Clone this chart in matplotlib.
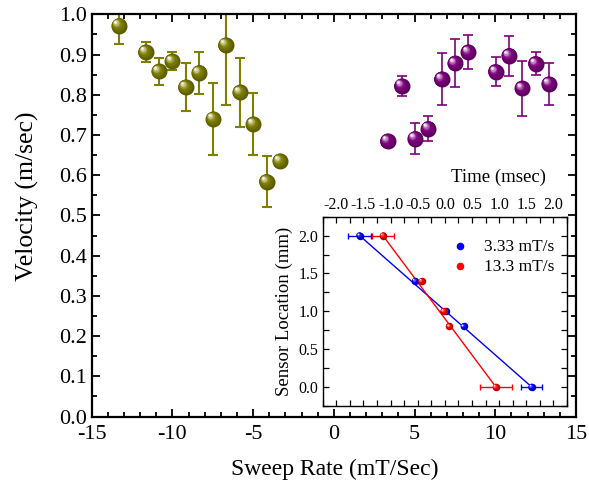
import numpy as np
import matplotlib
matplotlib.use("Agg")
import matplotlib.pyplot as plt
from matplotlib.transforms import offset_copy
from matplotlib.colors import to_rgb
from matplotlib.ticker import MultipleLocator

plt.rcParams['font.family'] = ['Liberation Serif', 'DejaVu Serif']
plt.rcParams['mathtext.fontset'] = 'stix'

# ---------------- data ----------------
neg_rate = [-13.32, -11.66, -10.84, -10.01, -9.18, -8.36, -7.47, -6.70, -5.82, -4.99, -4.16, -3.34]
neg_vel = [0.972, 0.906, 0.858, 0.883, 0.819, 0.855, 0.740, 0.924, 0.806, 0.727, 0.584, 0.635]
neg_err = [0.047, 0.024, 0.033, 0.022, 0.060, 0.052, 0.089, 0.149, 0.086, 0.077, 0.064, 0.0]

pos_rate = [3.33, 4.20, 5.02, 5.85, 6.68, 7.50, 8.33, 10.02, 10.85, 11.67, 12.50, 13.33]
pos_vel = [0.685, 0.822, 0.691, 0.716, 0.839, 0.878, 0.906, 0.857, 0.897, 0.816, 0.877, 0.827]
pos_err = [0.0, 0.024, 0.038, 0.030, 0.064, 0.060, 0.042, 0.036, 0.050, 0.069, 0.029, 0.052]

sensor_loc = [2.0, 1.4, 1.0, 0.8, 0.0]
time_slow = [-1.57, -0.55, 0.02, 0.35, 1.60]
time_slow_err = [0.21, 0.0, 0.0, 0.0, 0.20]
time_fast = [-1.14, -0.43, -0.02, 0.08, 0.94]
time_fast_err = [0.20, 0.0, 0.0, 0.0, 0.30]
labels = ['3.33 mT/s', '13.3 mT/s']

fig = plt.figure(figsize=(5.89, 4.91), dpi=100)
ax = fig.add_axes([0.1557, 0.1517, 0.8223, 0.8192])


def sphere(a, x, y, color, size, zorder=3, n=14):
    rgb = np.array(to_rgb(color))
    dark = rgb * 0.7
    white = np.array([1.0, 1.0, 1.0])
    for k in range(n):
        t = k / (n - 1)
        d = size * (1 - 0.9 * t)
        off = (size - d) * 0.28
        if t < 0.5:
            c = dark + (rgb - dark) * (t / 0.5)
        else:
            u = (t - 0.5) / 0.5
            c = rgb + (white - rgb) * (u ** 1.1)
        tr = offset_copy(a.transData, fig=fig, x=-off, y=off, units='points')
        a.scatter(x, y, s=d ** 2, color=tuple(np.clip(c, 0, 1)), transform=tr,
                  zorder=zorder + k * 0.001, linewidths=0, clip_on=True)


olive = '#808000'
purple = '#800080'
ax.errorbar(neg_rate, neg_vel, yerr=neg_err, fmt='none', ecolor=olive,
            elinewidth=1.5, capsize=3.5, capthick=1.5, zorder=2)
ax.errorbar(pos_rate, pos_vel, yerr=pos_err, fmt='none', ecolor=purple,
            elinewidth=1.2, capsize=3.5, capthick=1.2, zorder=2)
sphere(ax, neg_rate, neg_vel, olive, 11.5)
sphere(ax, pos_rate, pos_vel, purple, 11.5)

ax.set_xlim(-15, 15)
ax.set_ylim(0, 1.0)
ax.xaxis.set_major_locator(MultipleLocator(5))
ax.xaxis.set_minor_locator(MultipleLocator(1))
ax.yaxis.set_major_locator(MultipleLocator(0.1))
ax.yaxis.set_minor_locator(MultipleLocator(0.05))
ax.yaxis.set_major_formatter(plt.FuncFormatter(lambda v, p: f'{v:.1f}'))
ax.xaxis.set_major_formatter(plt.FuncFormatter(lambda v, p: f'{v:.0f}'))
ax.tick_params(which='both', direction='in', top=True, right=True, labelsize=16, width=1.3)
ax.tick_params(which='major', length=6)
ax.tick_params(which='minor', length=3.5)
ax.tick_params(axis='x', pad=6)
for s in ax.spines.values():
    s.set_linewidth(1.6)
ax.set_xlabel('Sweep Rate (mT/Sec)', fontsize=17)
ax.set_ylabel('Velocity (m/sec)', fontsize=18.5)
ax.xaxis.set_label_coords(0.502, -0.105)
ax.yaxis.set_label_coords(-0.108, 0.548)

# ---------------- inset ----------------
axi = fig.add_axes([0.548, 0.1735, 0.4145, 0.3850])
axi.errorbar(time_slow, sensor_loc, xerr=time_slow_err, fmt='none', ecolor='blue',
             elinewidth=1.0, capsize=2.5, capthick=1.0, zorder=2)
axi.errorbar(time_fast, sensor_loc, xerr=time_fast_err, fmt='none', ecolor='red',
             elinewidth=1.0, capsize=2.5, capthick=1.0, zorder=2)
axi.plot([time_slow[0], time_slow[-1]], [sensor_loc[0], sensor_loc[-1]], color='blue', lw=1.0, zorder=2)
axi.plot([time_fast[0], time_fast[-1]], [sensor_loc[0], sensor_loc[-1]], color='red', lw=1.0, zorder=2)
sphere(axi, time_slow, sensor_loc, 'blue', 5.4, zorder=3, n=8)
sphere(axi, time_fast, sensor_loc, 'red', 5.4, zorder=4, n=8)

axi.set_xlim(-2.25, 2.25)
axi.set_ylim(-0.25, 2.25)
axi.xaxis.set_major_locator(MultipleLocator(0.5))
axi.xaxis.set_minor_locator(MultipleLocator(0.25))
axi.yaxis.set_major_locator(MultipleLocator(0.5))
axi.yaxis.set_minor_locator(MultipleLocator(0.25))
axi.xaxis.set_major_formatter(plt.FuncFormatter(lambda v, p: f'{v:.1f}'))
axi.yaxis.set_major_formatter(plt.FuncFormatter(lambda v, p: f'{v:.1f}'))
axi.tick_params(which='both', direction='in', top=True, right=True, bottom=True,
                labeltop=True, labelbottom=False, labelsize=11.5, width=0.9, pad=3)
axi.tick_params(which='major', length=4)
axi.tick_params(which='minor', length=4)
for s in axi.spines.values():
    s.set_linewidth(1.0)
axi.set_ylabel('Sensor Location (mm)', fontsize=13.5, labelpad=4)
axi.text(0.718, 1.21, 'Time (msec)', transform=axi.transAxes, ha='center', va='center', fontsize=13.5)

h1 = axi.scatter([], [], s=20, color='blue')
h2 = axi.scatter([], [], s=20, color='red')
axi.legend([h1, h2], labels, loc='upper left', bbox_to_anchor=(0.49, 0.92), frameon=False,
           fontsize=12.5, handletextpad=0.8, labelspacing=0.2, borderaxespad=0,
           handlelength=1.2)

fig.savefig('out.png', dpi=100)
